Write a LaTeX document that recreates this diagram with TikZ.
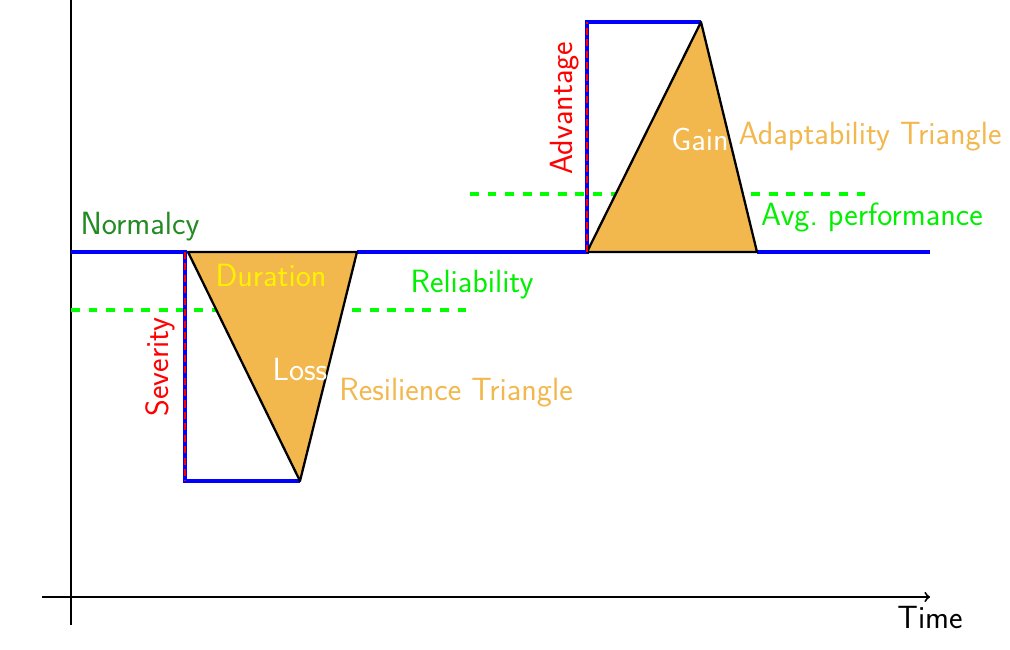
\documentclass[tikz,border=0pt]{standalone}
\usepackage{tikz}
\usepackage{xcolor}
\definecolor{triorange}{RGB}{242,183,77}
\definecolor{normgreen}{RGB}{34,139,34}
\definecolor{avggreen}{RGB}{0,240,0}
\tikzstyle{axis} = [line width=1.1pt, black]
\tikzstyle{perf} = [line width=2pt, blue]
\tikzstyle{tri} = [line width=1.3pt, black, fill=triorange, line join=round]
\tikzstyle{avg} = [line width=2pt, green, dash pattern=on 5pt off 5pt]
\tikzstyle{drop} = [line width=1.3pt, red, dash pattern=on 4pt off 2.5pt]
\tikzstyle{lbl} = [font=\sffamily\fontsize{18.3}{21}\selectfont, inner sep=1pt]

\begin{document}
\begin{tikzpicture}
\useasboundingbox (0,0) rectangle (20.2,13);
% axes
\draw [axis] (1.42,13) -- (1.42,0.5);
\draw [axis,->] (0.84,1.06) -- (18.6,1.06);

% average performance
\draw [avg] (1.42,6.8) -- (9.4,6.8);
\draw [avg] (9.4,9.12) -- (17.44,9.12);

% performance curve
\draw [perf] (1.42,7.96) -- (3.7,7.96) -- (3.7,3.38) -- (6.0,3.38);
\draw [perf] (7.14,7.96) -- (11.74,7.96) -- (11.74,12.56) -- (14.02,12.56);
\draw [perf] (15.14,7.96) -- (18.6,7.96);

% triangles
\draw [tri] (3.76,7.96) -- (7.14,7.96) -- (6.0,3.38) -- cycle;
\draw [tri] (11.74,7.96) -- (15.14,7.96) -- (14.02,12.56) -- cycle;

% severity and advantage
\draw [drop] (3.7,7.96) -- (3.7,3.38);
\draw [drop] (11.74,7.96) -- (11.74,12.56);

% labels
\node (normalcy) [lbl, text=normgreen] at (2.8,8.46) {Normalcy};
\node (duration) [lbl, text=yellow] at (5.42,7.5) {Duration};
\node (severity) [lbl, text=red, rotate=90] at (3.2,5.66) {Severity};
\node (loss) [lbl, text=white] at (6.0,5.62) {Loss};
\node (restri) [lbl, text=triorange] at (9.12,5.14) {Resilience Triangle};
\node (reliab) [lbl, text=avggreen] at (9.44,7.3) {Reliability};
\node (advant) [lbl, text=red, rotate=90] at (11.3,10.84) {Advantage};
\node (gain) [lbl, text=white] at (14.0,10.22) {Gain};
\node (adatri) [lbl, text=triorange] at (17.4,10.26) {Adaptability Triangle};
\node (avgperf) [lbl, text=avggreen] at (17.44,8.64) {Avg.\ performance};
\node (time) [lbl] at (18.6,0.64) {Time};
\end{tikzpicture}
\end{document}
